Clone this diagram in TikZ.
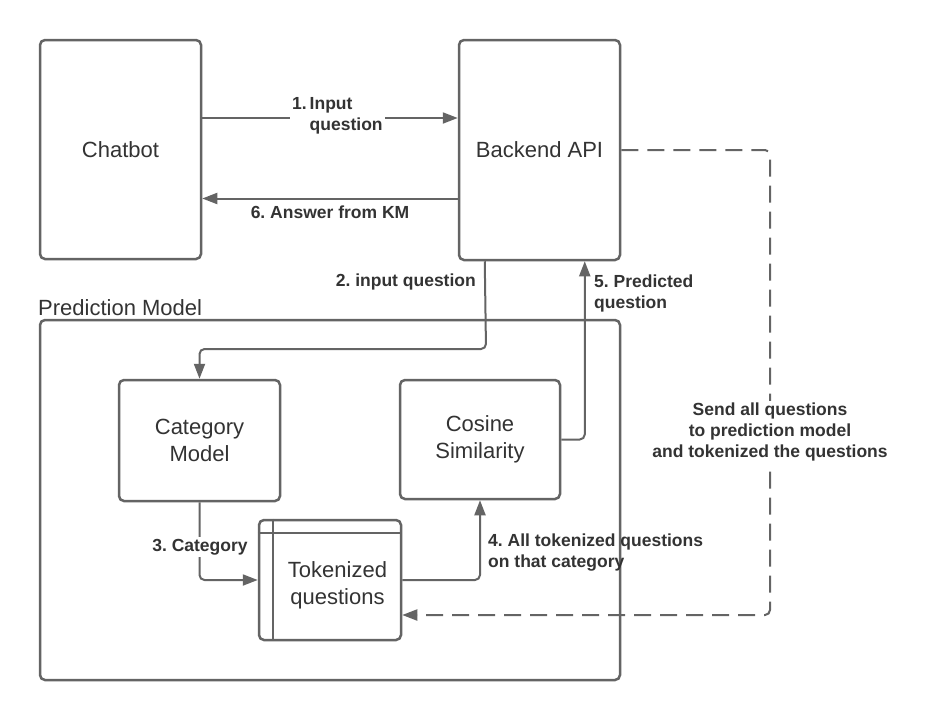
\documentclass[tikz,border=0pt]{standalone}
\usepackage{fontspec}
\setmainfont{Liberation Sans}
\usetikzlibrary{arrows.meta}
\definecolor{linegray}{RGB}{100,100,100}
\definecolor{textgray}{RGB}{51,51,51}
\frenchspacing

\begin{document}
\begin{tikzpicture}[
x=1pt, y=-1pt,
boxtext/.style={text=textgray, align=center, font=\fontsize{22}{27}\selectfont},
box/.style={rectangle, rounded corners=5pt, draw=linegray, line width=2.5pt, fill=white, boxtext},
lbl/.style={text=textgray, font=\bfseries\fontsize{17.5}{21}\selectfont, inner sep=2pt},
conn/.style={draw=linegray, line width=2pt, rounded corners=5pt, -{Triangle[length=15pt,width=11pt]}},
dashconn/.style={conn, dash pattern=on 17pt off 9pt},
]
\useasboundingbox (0,0) rectangle (926,715);
\node[box, minimum width=580pt, minimum height=360pt](pred) at (330,500){};
\node[boxtext, anchor=base west, inner sep=0pt](predlbl) at (38,315){Prediction Model};
\node[box, minimum width=161pt, minimum height=219pt](chatbot) at (120.5,149.5){Chatbot};
\node[box, minimum width=161pt, minimum height=220pt](backend) at (539.5,150){Backend API};
\node[box, minimum width=161pt, minimum height=121pt](catmodel) at (199.5,440.5){Category\\Model};
\node[box, minimum width=160pt, minimum height=119pt](cosine) at (480,439.5){Cosine\\Similarity};
\node[box, minimum width=142pt, minimum height=120pt,
  label={[name=toktext, boxtext, xshift=7.5pt, yshift=-5pt]center:Tokenized\\questions}](tokenized) at (330,580){};
\draw[linegray, line width=2.5pt] ([xshift=15pt]tokenized.north west) -- ([xshift=15pt]tokenized.south west);
\draw[linegray, line width=2.5pt] ([yshift=-14pt]tokenized.north west) -- ([yshift=-14pt]tokenized.north east);
% turning points
\coordinate (in1) at ([yshift=31.5pt]chatbot.east);
\coordinate (out6) at ([yshift=-48.5pt]backend.west);
\coordinate (out2) at ([xshift=27pt]backend.south west);
\coordinate (turn2) at (486,349);
\coordinate (in5) at ([xshift=127pt]backend.south west);
\coordinate (dashturn) at (770,150);
\coordinate (tokin) at ([yshift=-35pt]tokenized.east);
% connectors
\draw[conn] (in1) -- (in1 -| backend.west);
\node[lbl, fill=white, align=left, anchor=west](lbl1) at (290,116){1.\,Input\\\hphantom{1.\,}question};
\draw[conn] (out6) -- (out6 -| chatbot.east);
\node[lbl](lbl6) at (330,212){6. Answer from KM};
\draw[conn] (out2) -- (turn2) -- (turn2 -| catmodel.north) -- (catmodel.north);
\node[lbl, anchor=east](lbl2) at (478,282){2. input question};
\draw[conn] (catmodel.south) |- (tokenized.west);
\node[lbl, fill=white](lbl3) at (200,547){3. Category};
\draw[conn] (tokenized.east) -| (cosine.south);
\node[lbl, align=left, anchor=west](lbl4) at (486,553){4. All tokenized questions\\on that category};
\draw[conn] (cosine.east) -- (cosine.east -| in5) -- (in5);
\node[lbl, align=left, anchor=west](lbl5) at (592,293){5. Predicted\\question};
\draw[dashconn] (backend.east) -- (dashturn) -- (dashturn |- tokin) -- (tokin);
\node[lbl, fill=white, align=center](lblsend) at (770,432){Send all questions\\to prediction model\\and tokenized the questions};
\end{tikzpicture}
\end{document}
